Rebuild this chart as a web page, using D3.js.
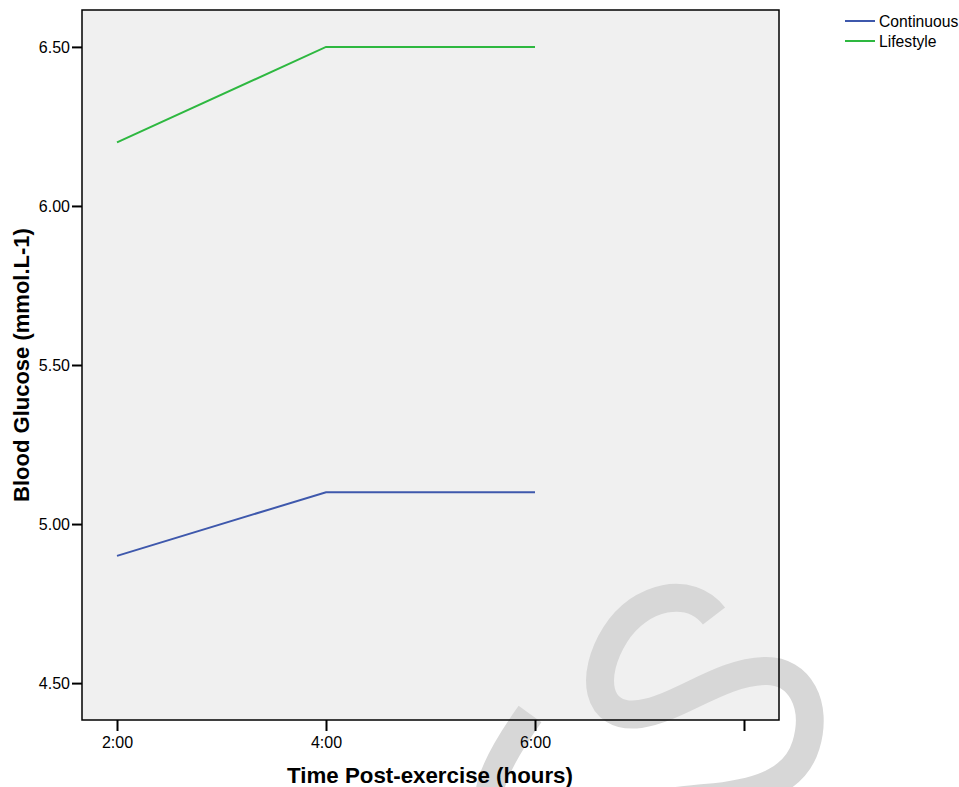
<!DOCTYPE html>
<html>
<head>
<meta charset="utf-8">
<script src="https://cdn.jsdelivr.net/npm/d3@7"></script>
<style>
  body { margin: 0; background: #fff; }
  svg { display: block; font-family: Arial, "Liberation Sans", sans-serif; }
</style>
</head>
<body>
<script>
// data
var hours = [2, 4, 6];
var xTicks = [2, 4, 6, 8];
var xTickLabels = ["2:00", "4:00", "6:00", ""];
var yTicks = [4.5, 5.0, 5.5, 6.0, 6.5];
var seriesNames = ["Continuous", "Lifestyle"];
var continuous = [4.90, 5.10, 5.10];
var lifestyle = [6.20, 6.50, 6.50];
var seriesColors = ["#3e58ac", "#2eb840"];

var W = 959, H = 787;
var plot = { left: 82, top: 10, right: 779, bottom: 720 };

var svg = d3.select("body").append("svg")
    .attr("width", W)
    .attr("height", H);

var x = d3.scaleLinear()
    .domain([1.665, 8.335])
    .range([plot.left, plot.right]);

var y = d3.scaleLinear()
    .domain([4.384, 6.616])
    .range([plot.bottom, plot.top]);

// plot background
svg.append("rect")
    .attr("x", plot.left)
    .attr("y", plot.top)
    .attr("width", plot.right - plot.left)
    .attr("height", plot.bottom - plot.top)
    .attr("fill", "#f0f0f0");

// watermark stroke (grey S in the bottom right)
svg.append("path")
    .attr("d", "M714,616 C690,585 640,595 615,635 C590,675 595,720 640,714 " +
               "C680,708 720,672 765,671 C800,670 818,705 806,745 " +
               "C796,778 765,793 705,798 C645,803 560,820 500,812 " +
               "C478,808 490,770 530,714")
    .attr("fill", "none")
    .attr("stroke", "#d7d7d7")
    .attr("stroke-width", 28);

// lines
var line = d3.line()
    .x(function(d, i) { return x(hours[i]); })
    .y(function(d) { return y(d); });

[continuous, lifestyle].forEach(function(s, i) {
  svg.append("path")
      .datum(s)
      .attr("d", line)
      .attr("fill", "none")
      .attr("stroke", seriesColors[i])
      .attr("stroke-width", 2);
});

// plot frame
svg.append("rect")
    .attr("x", plot.left)
    .attr("y", plot.top)
    .attr("width", plot.right - plot.left)
    .attr("height", plot.bottom - plot.top)
    .attr("fill", "none")
    .attr("stroke", "#000")
    .attr("stroke-width", 1.5);

// y axis
var yAxis = svg.append("g")
    .attr("transform", "translate(" + plot.left + ",0)")
    .call(d3.axisLeft(y)
      .tickValues(yTicks)
      .tickFormat(d3.format(".2f"))
      .tickSize(10)
      .tickPadding(2));
yAxis.select(".domain").remove();
yAxis.selectAll(".tick line").attr("stroke", "#000").attr("stroke-width", 2);
yAxis.selectAll(".tick text")
    .attr("fill", "#000")
    .style("font-size", "16px")
    .style("font-family", "Arial, 'Liberation Sans', sans-serif");

// x axis
var xAxis = svg.append("g")
    .attr("transform", "translate(0," + plot.bottom + ")")
    .call(d3.axisBottom(x)
      .tickValues(xTicks)
      .tickFormat(function(d, i) { return xTickLabels[i]; })
      .tickSize(11)
      .tickPadding(6));
xAxis.select(".domain").remove();
xAxis.selectAll(".tick line").attr("stroke", "#000").attr("stroke-width", 2);
xAxis.selectAll(".tick text")
    .attr("fill", "#000")
    .style("font-size", "16px")
    .style("font-family", "Arial, 'Liberation Sans', sans-serif");

// axis titles
svg.append("text")
    .attr("x", 430)
    .attr("y", 783)
    .attr("text-anchor", "middle")
    .style("font-size", "22.3px")
    .style("font-weight", "bold")
    .text("Time Post-exercise (hours)");

svg.append("text")
    .attr("transform", "translate(29,365) rotate(-90)")
    .attr("text-anchor", "middle")
    .style("font-size", "22px")
    .style("font-weight", "bold")
    .text("Blood Glucose (mmol.L-1)");

// legend
var legend = svg.append("g")
    .attr("transform", "translate(845,21)");
seriesNames.forEach(function(name, i) {
  var row = legend.append("g").attr("transform", "translate(0," + (i * 20) + ")");
  row.append("line")
      .attr("x1", 0).attr("x2", 30)
      .attr("stroke", seriesColors[i])
      .attr("stroke-width", 2);
  row.append("text")
      .attr("x", 34)
      .attr("dy", "0.35em")
      .style("font-size", "15.7px")
      .text(name);
});
</script>
</body>
</html>
